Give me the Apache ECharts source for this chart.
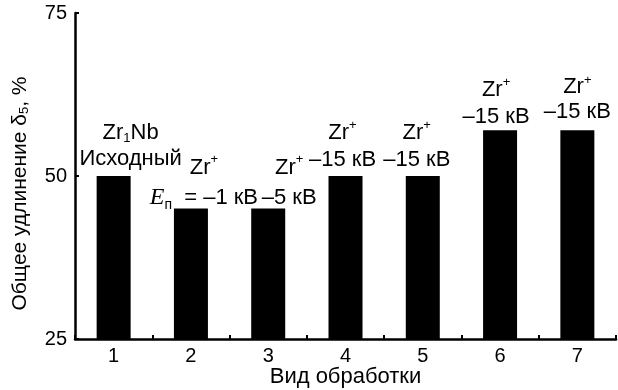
<!DOCTYPE html>
<html>
<head>
<meta charset="utf-8">
<script src="https://cdn.jsdelivr.net/npm/echarts@6/dist/echarts.min.js"></script>
<style>
  html, body { margin: 0; padding: 0; background: #fff; }
  #chart { width: 618px; height: 390px; }
</style>
</head>
<body>
<div id="chart"></div>
<script>
// Treatment types and total elongation values
const categories = ['1', '2', '3', '4', '5', '6', '7'];
const elongation = [50, 45, 45, 50, 50, 57, 57];
const yTicks = { min: 25, max: 75, step: 25 };

// Two-line annotations above each bar, written as ECharts rich-text markup
const labelTop = [
  '{t|Zr}{sub|1}{t|Nb}',
  '{t|Zr}{sup|+}', '{t|Zr}{sup|+}', '{t|Zr}{sup|+}',
  '{t|Zr}{sup|+}', '{t|Zr}{sup|+}', '{t|Zr}{sup|+}'
];
const labelBottom = [
  '{t|Исходный}',
  '{e|E}{esub|п}{t| = –1 кВ}',
  '{t|–5 кВ}', '{t|–15 кВ}', '{t|–15 кВ}', '{t|–15 кВ}', '{t|–15 кВ}'
];

// Per-bar label placement tweaks [dx, dy] and line spacing
const labelShift = [[17, -4], [13, 4], [21, 4], [-3, -3], [-6, -3], [-4, 0], [0, -6]];
const labelLine = [26, 30, 30, 27, 27, 27, 25];

const FONT = 'Liberation Sans, Arial, sans-serif';
const TXT = 22;

function richFor(lh) {
  return {
    t: { fontSize: TXT, fontFamily: FONT, color: '#000', lineHeight: lh },
    sub: { fontSize: 13, fontFamily: FONT, color: '#000', lineHeight: 14, verticalAlign: 'bottom', padding: [0, 0, 1, 0] },
    sup: { fontSize: 13, fontFamily: FONT, color: '#000', lineHeight: 2, verticalAlign: 'top' },
    e: { fontSize: 24, fontFamily: 'Liberation Serif, serif', fontStyle: 'italic', color: '#000', lineHeight: lh },
    esub: { fontSize: 14, fontFamily: FONT, color: '#000', lineHeight: 14, verticalAlign: 'bottom', padding: [0, 6, 0, 0] }
  };
}

const data = elongation.map((v, i) => ({
  value: v,
  label: {
    show: true,
    position: 'top',
    distance: 0,
    offset: labelShift[i],
    lineHeight: labelLine[i],
    formatter: labelTop[i] + '\n' + labelBottom[i],
    rich: richFor(labelLine[i])
  }
}));

const chart = echarts.init(document.getElementById('chart'), null, { renderer: 'canvas' });
chart.setOption({
  animation: false,
  backgroundColor: '#fff',
  grid: { left: 75, right: 2, top: 13, bottom: 51, containLabel: false, outerBoundsMode: 'none' },
  xAxis: {
    type: 'category',
    data: categories,
    boundaryGap: true,
    name: 'Вид обработки',
    nameLocation: 'middle',
    nameGap: 27,
    nameMoveOverlap: false,
    nameTextStyle: { fontSize: TXT, fontFamily: FONT, color: '#000' },
    axisLine: { lineStyle: { color: '#000', width: 2.5 } },
    axisTick: { show: true, inside: true, length: 4, interval: 0, lineStyle: { color: '#000', width: 2 } },
    axisLabel: { fontSize: 20, fontFamily: FONT, color: '#000', margin: 7 },
    splitLine: { show: false }
  },
  yAxis: {
    type: 'value',
    min: yTicks.min,
    max: yTicks.max,
    interval: yTicks.step,
    name: '{t|Общее удлинение δ}{s|5}{t|, %}',
    nameLocation: 'middle',
    nameGap: 44,
    nameRotate: 90,
    nameMoveOverlap: false,
    nameTextStyle: {
      color: '#000',
      padding: [0, 35, 0, 0],
      rich: {
        t: { fontSize: 21, fontFamily: FONT, color: '#000' },
        s: { fontSize: 13, fontFamily: FONT, color: '#000', verticalAlign: 'bottom' }
      }
    },
    axisLine: { show: true, lineStyle: { color: '#000', width: 2.5 } },
    axisTick: { show: true, inside: true, length: 4, lineStyle: { color: '#000', width: 2 } },
    axisLabel: { fontSize: 20, fontFamily: FONT, color: '#000', margin: 8 },
    splitLine: { show: false }
  },
  series: [{
    type: 'bar',
    data: data,
    barWidth: 34,
    itemStyle: { color: '#000' }
  }]
});
</script>
</body>
</html>
